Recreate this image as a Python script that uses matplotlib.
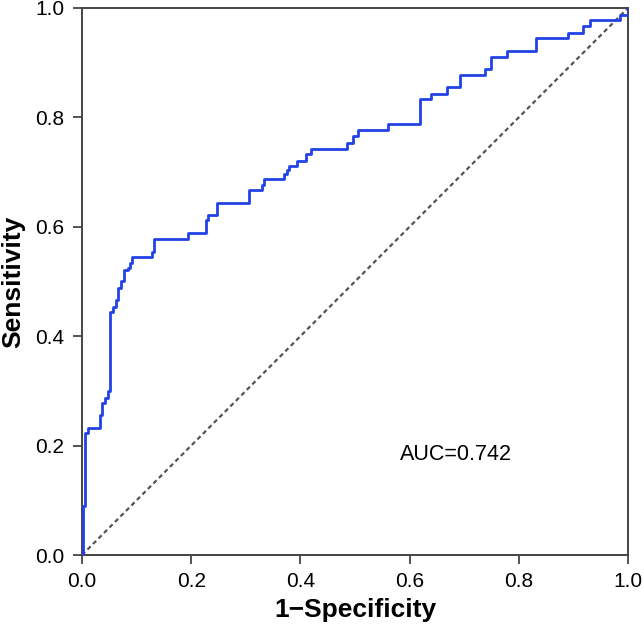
import numpy as np
import matplotlib
matplotlib.use('Agg')
import matplotlib.pyplot as plt

plt.rcParams['font.family'] = ['Liberation Sans', 'DejaVu Sans']

# ROC corner points: fpr where the curve jumps up, tpr at the top of the jump
fpr = [0.0, 0.0025, 0.005, 0.011, 0.033, 0.037, 0.042, 0.047, 0.051, 0.056,
       0.062, 0.066, 0.071, 0.077, 0.085, 0.088, 0.092, 0.128, 0.132, 0.195,
       0.227, 0.231, 0.247, 0.305, 0.329, 0.333, 0.370, 0.375, 0.380, 0.394,
       0.411, 0.420, 0.485, 0.497, 0.506, 0.561, 0.619, 0.640, 0.668, 0.692,
       0.738, 0.750, 0.778, 0.831, 0.891, 0.917, 0.930, 0.985, 1.0]
tpr = [0.0, 0.089, 0.223, 0.233, 0.256, 0.278, 0.287, 0.300, 0.445, 0.454,
       0.467, 0.488, 0.500, 0.521, 0.524, 0.534, 0.544, 0.554, 0.577, 0.588,
       0.612, 0.622, 0.644, 0.667, 0.676, 0.687, 0.697, 0.703, 0.712, 0.720,
       0.733, 0.743, 0.753, 0.766, 0.777, 0.788, 0.834, 0.843, 0.855, 0.877,
       0.888, 0.911, 0.922, 0.945, 0.955, 0.967, 0.978, 0.987, 1.0]
auc_text = 'AUC=0.742'
ticks = [0.0, 0.2, 0.4, 0.6, 0.8, 1.0]

fig = plt.figure(figsize=(6.44, 6.33), dpi=100)
ax = fig.add_axes([0.1273, 0.1232, 0.8478, 0.8642])

# reference diagonal
ax.plot([0, 1], [0, 1], color='#555555', linestyle=(0, (2, 1.5)), linewidth=1.6, zorder=2)
# ROC curve
ax.plot(fpr, tpr, drawstyle='steps-post', color='#2242e6', linewidth=2.0, zorder=3)

ax.text(0.582, 0.184, auc_text, fontsize=15.5, ha='left', va='center')

ax.set_xlim(0, 1)
ax.set_ylim(0, 1)
ax.set_xticks(ticks)
ax.set_yticks(ticks)
ax.set_xticklabels(['%.1f' % t for t in ticks])
ax.set_yticklabels(['%.1f' % t for t in ticks])
ax.tick_params(direction='out', length=6.5, width=1.3, color='#444444', labelsize=15, pad=6)
for s in ax.spines.values():
    s.set_color('#444444')
    s.set_linewidth(1.4)

ax.set_xlabel('1\u2212Specificity', fontsize=19, fontweight='bold', labelpad=5)
ax.set_ylabel('Sensitivity', fontsize=19, fontweight='bold', labelpad=7)

fig.savefig('out.png', dpi=100)
